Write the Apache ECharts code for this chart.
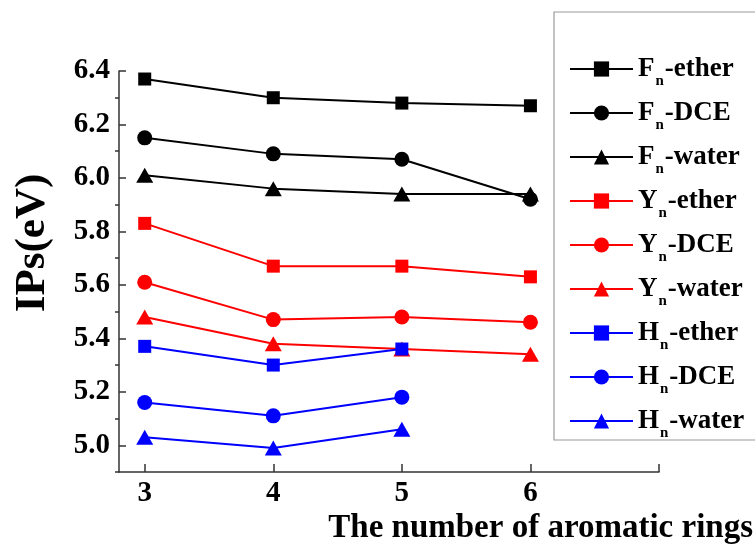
<!DOCTYPE html>
<html lang="en">
<head>
  <meta charset="UTF-8">
  <title>IPs vs aromatic rings</title>
  <script src="https://cdn.jsdelivr.net/npm/echarts@6/dist/echarts.min.js"></script>
  <style>
    html, body { margin: 0; padding: 0; background: #fff; }
    #chart { width: 755px; height: 547px; }
  </style>
</head>
<body>
<div id="chart"></div>
<script>
  // x axis: number of aromatic rings
  const rings = [3, 4, 5, 6];
  const xTicks = [3, 4, 5, 6, 7];
  const yMajor = [5.0, 5.2, 5.4, 5.6, 5.8, 6.0, 6.2, 6.4];
  const yMinor = [4.9, 5.1, 5.3, 5.5, 5.7, 5.9, 6.1, 6.3];

  // IPs (eV)
  const fEther = [6.37, 6.30, 6.28, 6.27];
  const fDCE = [6.15, 6.09, 6.07, 5.92];
  const fWater = [6.01, 5.96, 5.94, 5.94];
  const yEther = [5.83, 5.67, 5.67, 5.63];
  const yDCE = [5.61, 5.47, 5.48, 5.46];
  const yWater = [5.48, 5.38, 5.36, 5.34];
  const hEther = [5.37, 5.30, 5.36];
  const hDCE = [5.16, 5.11, 5.18];
  const hWater = [5.03, 4.99, 5.06];

  const names = ['Fn-ether', 'Fn-DCE', 'Fn-water', 'Yn-ether', 'Yn-DCE', 'Yn-water', 'Hn-ether', 'Hn-DCE', 'Hn-water'];
  const values = [fEther, fDCE, fWater, yEther, yDCE, yWater, hEther, hDCE, hWater];
  const colors = ['#000000', '#000000', '#000000', '#ff0000', '#ff0000', '#ff0000', '#0000ff', '#0000ff', '#0000ff'];
  const symbols = ['rect', 'circle', 'triangle'];
  const sizes = [13, 15, [17, 15]];

  const FONT = "'Liberation Serif', 'DejaVu Serif', serif";

  const chart = echarts.init(document.getElementById('chart'));

  const series = names.map((name, i) => ({
    name: name,
    type: 'line',
    data: values[i].map((v, j) => [rings[j], v]),
    symbol: symbols[i % 3],
    symbolSize: sizes[i % 3],
    showSymbol: true,
    itemStyle: { color: colors[i] },
    lineStyle: { color: colors[i], width: 2 },
    animation: false
  }));

  const option = {
    backgroundColor: '#ffffff',
    grid: { left: 119, top: 71, width: 540, height: 401 },
    xAxis: {
      type: 'value',
      min: 2.8,
      max: 7,
      axisLine: { lineStyle: { color: '#333', width: 1.5 } },
      axisTick: { inside: true, length: 8, customValues: xTicks, lineStyle: { color: '#333', width: 1.5 } },
      axisLabel: {
        customValues: rings,
        margin: 7,
        color: '#000',
        fontFamily: FONT,
        fontWeight: 'bold',
        fontSize: 29
      },
      splitLine: { show: false }
    },
    yAxis: [
      {
        type: 'value',
        min: 4.9,
        max: 6.4,
        axisLine: { show: true, lineStyle: { color: '#333', width: 1.5 } },
        axisTick: { show: true, inside: true, length: 7, customValues: yMajor, lineStyle: { color: '#333', width: 1.5 } },
        axisLabel: {
          customValues: yMajor,
          margin: 9,
          color: '#000',
          fontFamily: FONT,
          fontWeight: 'bold',
          fontSize: 29,
          formatter: v => v.toFixed(1)
        },
        splitLine: { show: false }
      },
      {
        // minor ticks only
        type: 'value',
        min: 4.9,
        max: 6.4,
        position: 'left',
        axisLine: { show: false },
        axisTick: { show: true, inside: false, length: 4, customValues: yMinor, lineStyle: { color: '#333', width: 1.5 } },
        axisLabel: { show: false },
        splitLine: { show: false }
      }
    ],
    legend: {
      orient: 'vertical',
      left: 569,
      top: 49,
      padding: 0,
      itemGap: 4,
      itemWidth: 63,
      itemHeight: 19,
      data: names,
      formatter: name => '{a|' + name[0] + '}{s|n}{a|' + name.slice(2) + '}',
      textStyle: {
        rich: {
          a: { fontFamily: FONT, fontWeight: 'bold', fontSize: 27, lineHeight: 28, color: '#000', verticalAlign: 'middle' },
          s: { fontFamily: FONT, fontWeight: 'bold', fontSize: 15, lineHeight: 15, color: '#000', padding: [25, 1, 0, 1], verticalAlign: 'middle' }
        }
      }
    },
    graphic: [
      {
        type: 'rect',
        shape: { x: 554, y: 12, width: 260, height: 428 },
        style: { fill: 'none', stroke: '#999', lineWidth: 1.2 },
        silent: true
      },
      {
        type: 'text',
        x: 33,
        y: 243,
        rotation: Math.PI / 2,
        style: {
          text: 'IPs(eV)',
          fontFamily: FONT,
          fontWeight: 'bold',
          fontSize: 43,
          fill: '#000',
          align: 'center',
          verticalAlign: 'middle'
        }
      },
      {
        type: 'text',
        x: 753,
        y: 528,
        style: {
          text: 'The number of aromatic rings',
          fontFamily: FONT,
          fontWeight: 'bold',
          fontSize: 33,
          fill: '#000',
          align: 'right',
          verticalAlign: 'middle'
        }
      }
    ],
    series: series
  };

  chart.setOption(option);
</script>
</body>
</html>
